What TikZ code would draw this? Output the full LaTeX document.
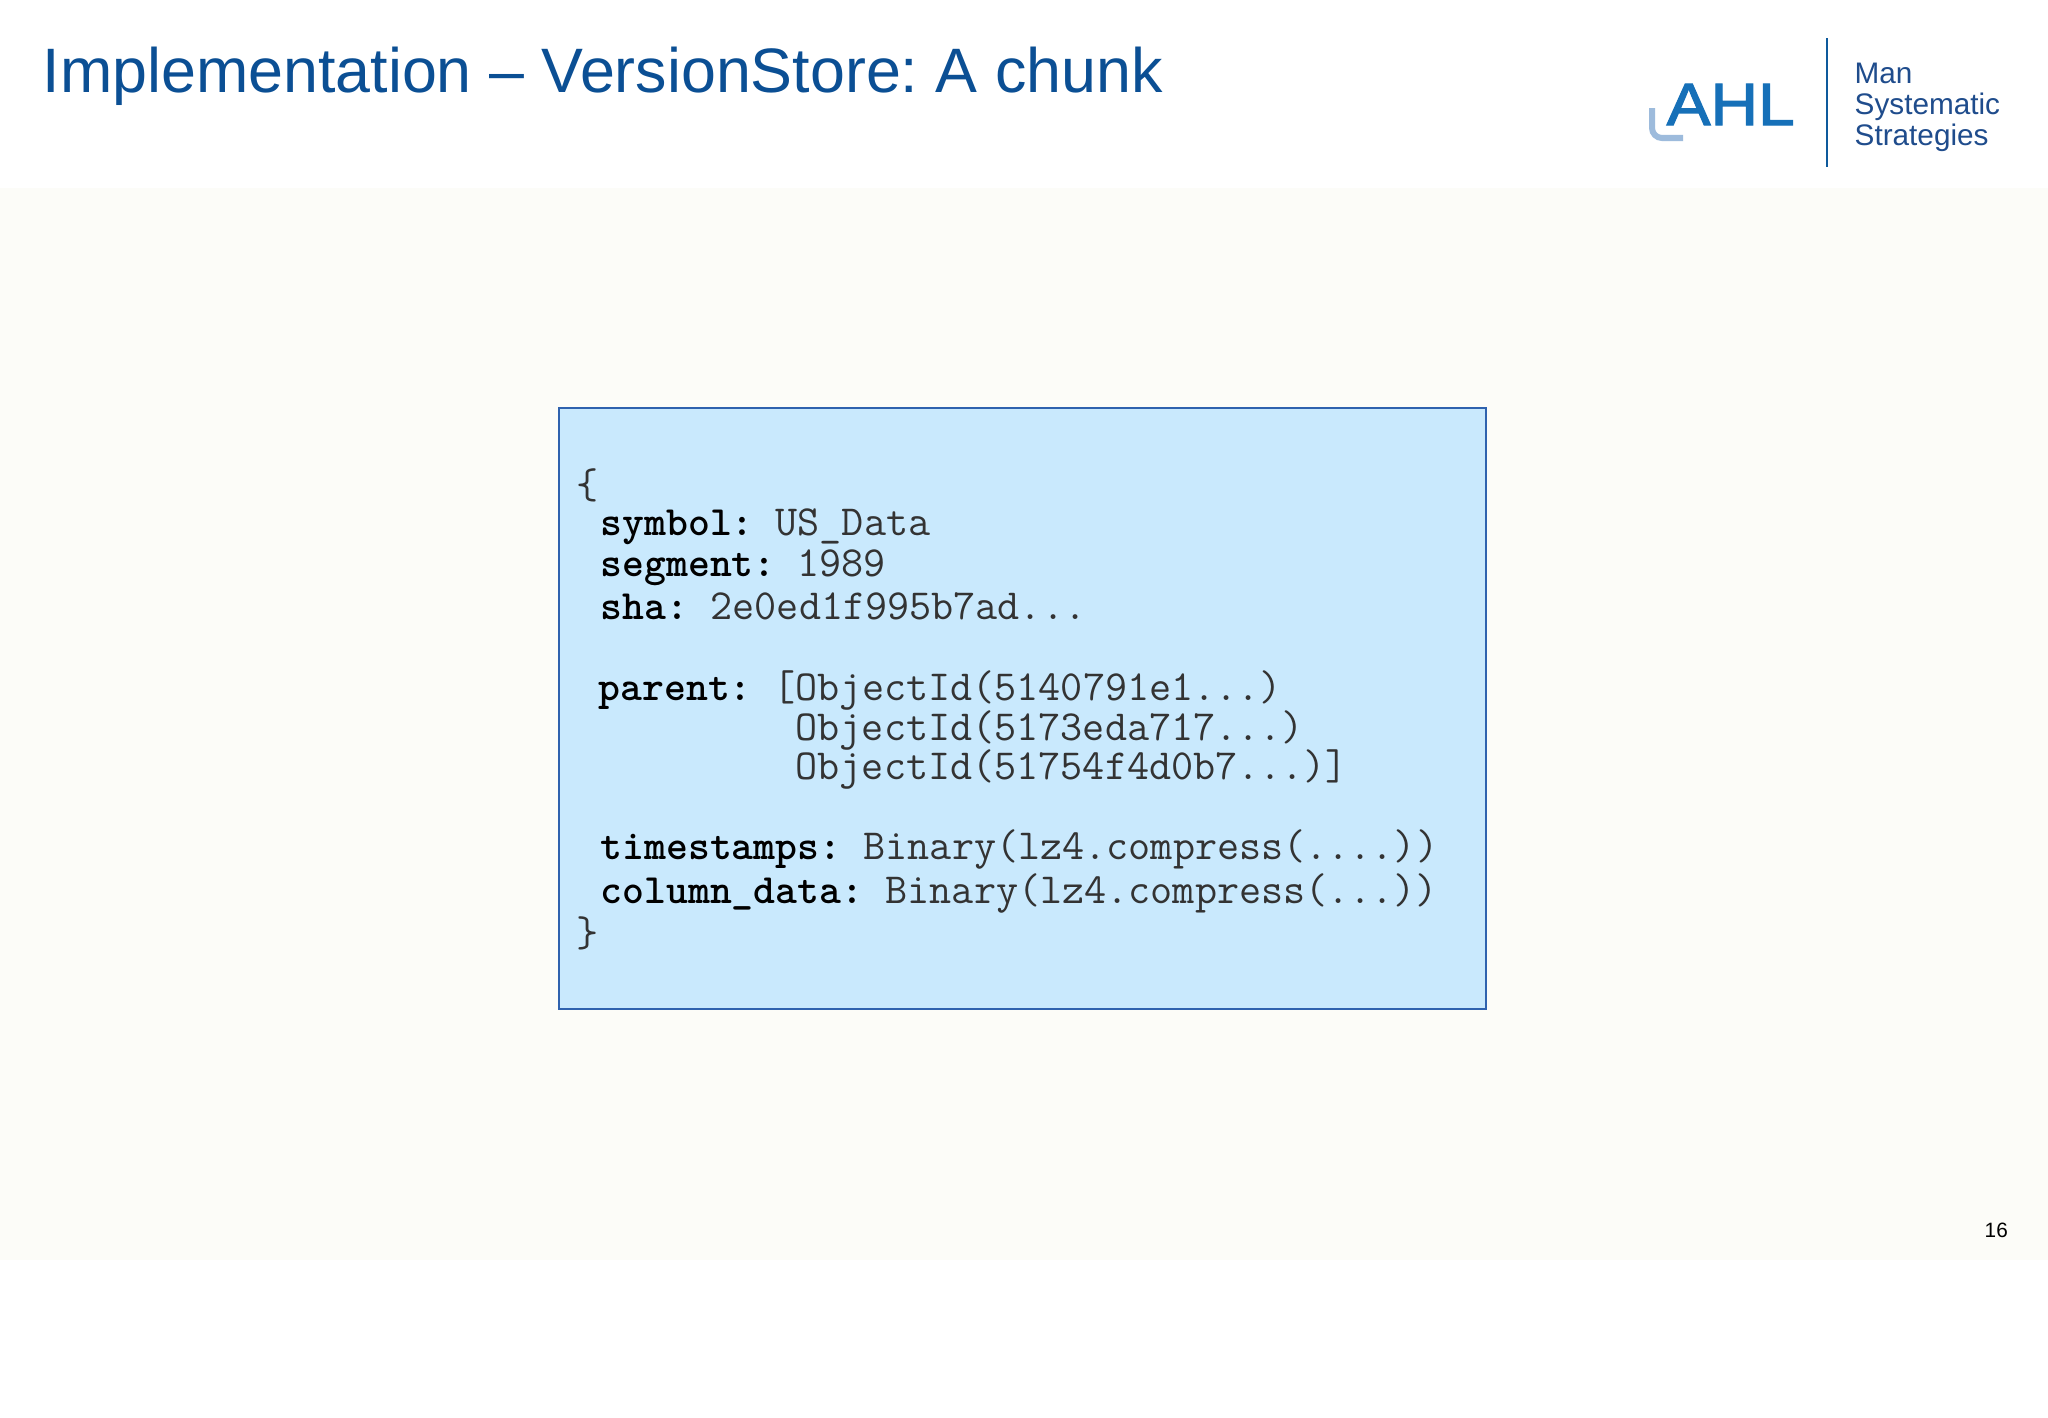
\documentclass[tikz,border=0pt]{standalone}
\usepackage{fontspec}
\setmainfont{Liberation Sans}
\newfontfamily\logofont[FakeStretch=1.1,FakeBold=2]{Liberation Sans}
\usetikzlibrary{positioning}
\definecolor{titleblue}{HTML}{0B4F94}
\definecolor{logoblue}{HTML}{1670B8}
\definecolor{logopale}{HTML}{9DBBDC}
\definecolor{logonavy}{HTML}{1F4C8C}
\definecolor{rulenavy}{HTML}{0E5A9C}
\definecolor{slidebg}{HTML}{FCFCF8}
\definecolor{chunkfill}{HTML}{C9E9FD}
\definecolor{chunkedge}{HTML}{2F62AE}
\newcommand{\pxfont}[1]{\fontsize{#1}{#1}\selectfont}
\tikzset{
    chunkbox/.style={rectangle,draw=chunkedge,fill=chunkfill,line width=0.2mm,inner sep=0pt,minimum width=9.27cm,minimum height=6.01cm},
    codeline/.style={anchor=base west,inner sep=0pt,text=black!80,font=\ttfamily\pxfont{12.2pt}},
    codekey/.style={anchor=base west,inner sep=0pt,text=black,font=\ttfamily\bfseries\pxfont{11.85pt}},
    logoline/.style={anchor=base west,inner sep=0pt,text=logonavy,font=\pxfont{8.45pt}}
}
\begin{document}
\begin{tikzpicture}[x=0.01cm,y=-0.01cm]
    \useasboundingbox (0,0) rectangle (2048,1418);
    \fill[white] (0,0) rectangle (2048,1418);
    \fill[slidebg] (0,188) rectangle (2048,1260);

    % header
    \node[anchor=base west,inner sep=0pt,text=titleblue,font=\frenchspacing\pxfont{17.85pt}] (title) at (42,92)
      {Implementation -- VersionStore: A chunk};
    \node[anchor=base west,inner sep=0pt,text=logoblue,font=\logofont\pxfont{17pt}] (ahl) at (1666,125) {AHL};
    \coordinate (cornertop) at (1652,108);
    \coordinate (cornerend) at (1683,138);
    \draw[logopale,line width=0.6mm,rounded corners=1mm] (cornertop) |- (cornerend);
    \coordinate (ruletop) at (1827,38);
    \coordinate (rulebot) at (1827,167);
    \draw[rulenavy,line width=0.25mm] (ruletop) -- (rulebot);
    \node[logoline] (man) at (1854,83) {Man};
    \node[logoline] (systematic) at (1854,114) {Systematic};
    \node[logoline] (strategies) at (1854,145) {Strategies};

    % the chunk
    \node[chunkbox] (chunk) at (1022.5,708.5) {};
    \node[codeline] (open) at (576,498) {\{};
    \node[codekey] (symbol) at (600,535) {symbol:};
    \node[codeline] (symbolval) at (775,535) {US\_Data};
    \node[codekey] (segment) at (600,576) {segment:};
    \node[codeline] (segmentval) at (797,576) {1989};
    \node[codekey] (sha) at (600,619) {sha:};
    \node[codeline] (shaval) at (710,619) {2e0ed1f995b7ad...};
    \node[codekey] (parent) at (598,700) {parent:};
    \node[codeline] (parentval) at (773,700) {[ObjectId(5140791e1...)};
    \node[codeline] (parenttwo) at (795,740) {ObjectId(5173eda717...)};
    \node[codeline] (parentthree) at (795,779) {ObjectId(51754f4d0b7...)]};
    \node[codekey] (timestamps) at (600,859) {timestamps:};
    \node[codeline] (timestampsval) at (863,859) {Binary(lz4.compress(....))};
    \node[codekey] (columndata) at (600,903) {column\_data:};
    \node[codeline] (columndataval) at (885,903) {Binary(lz4.compress(...))};
    \node[codeline] (close) at (576,946) {\}};

    \node[anchor=base west,inner sep=0pt,text=black,font=\pxfont{5.9pt}] (pagenum) at (1984,1237) {16};
\end{tikzpicture}
\end{document}
